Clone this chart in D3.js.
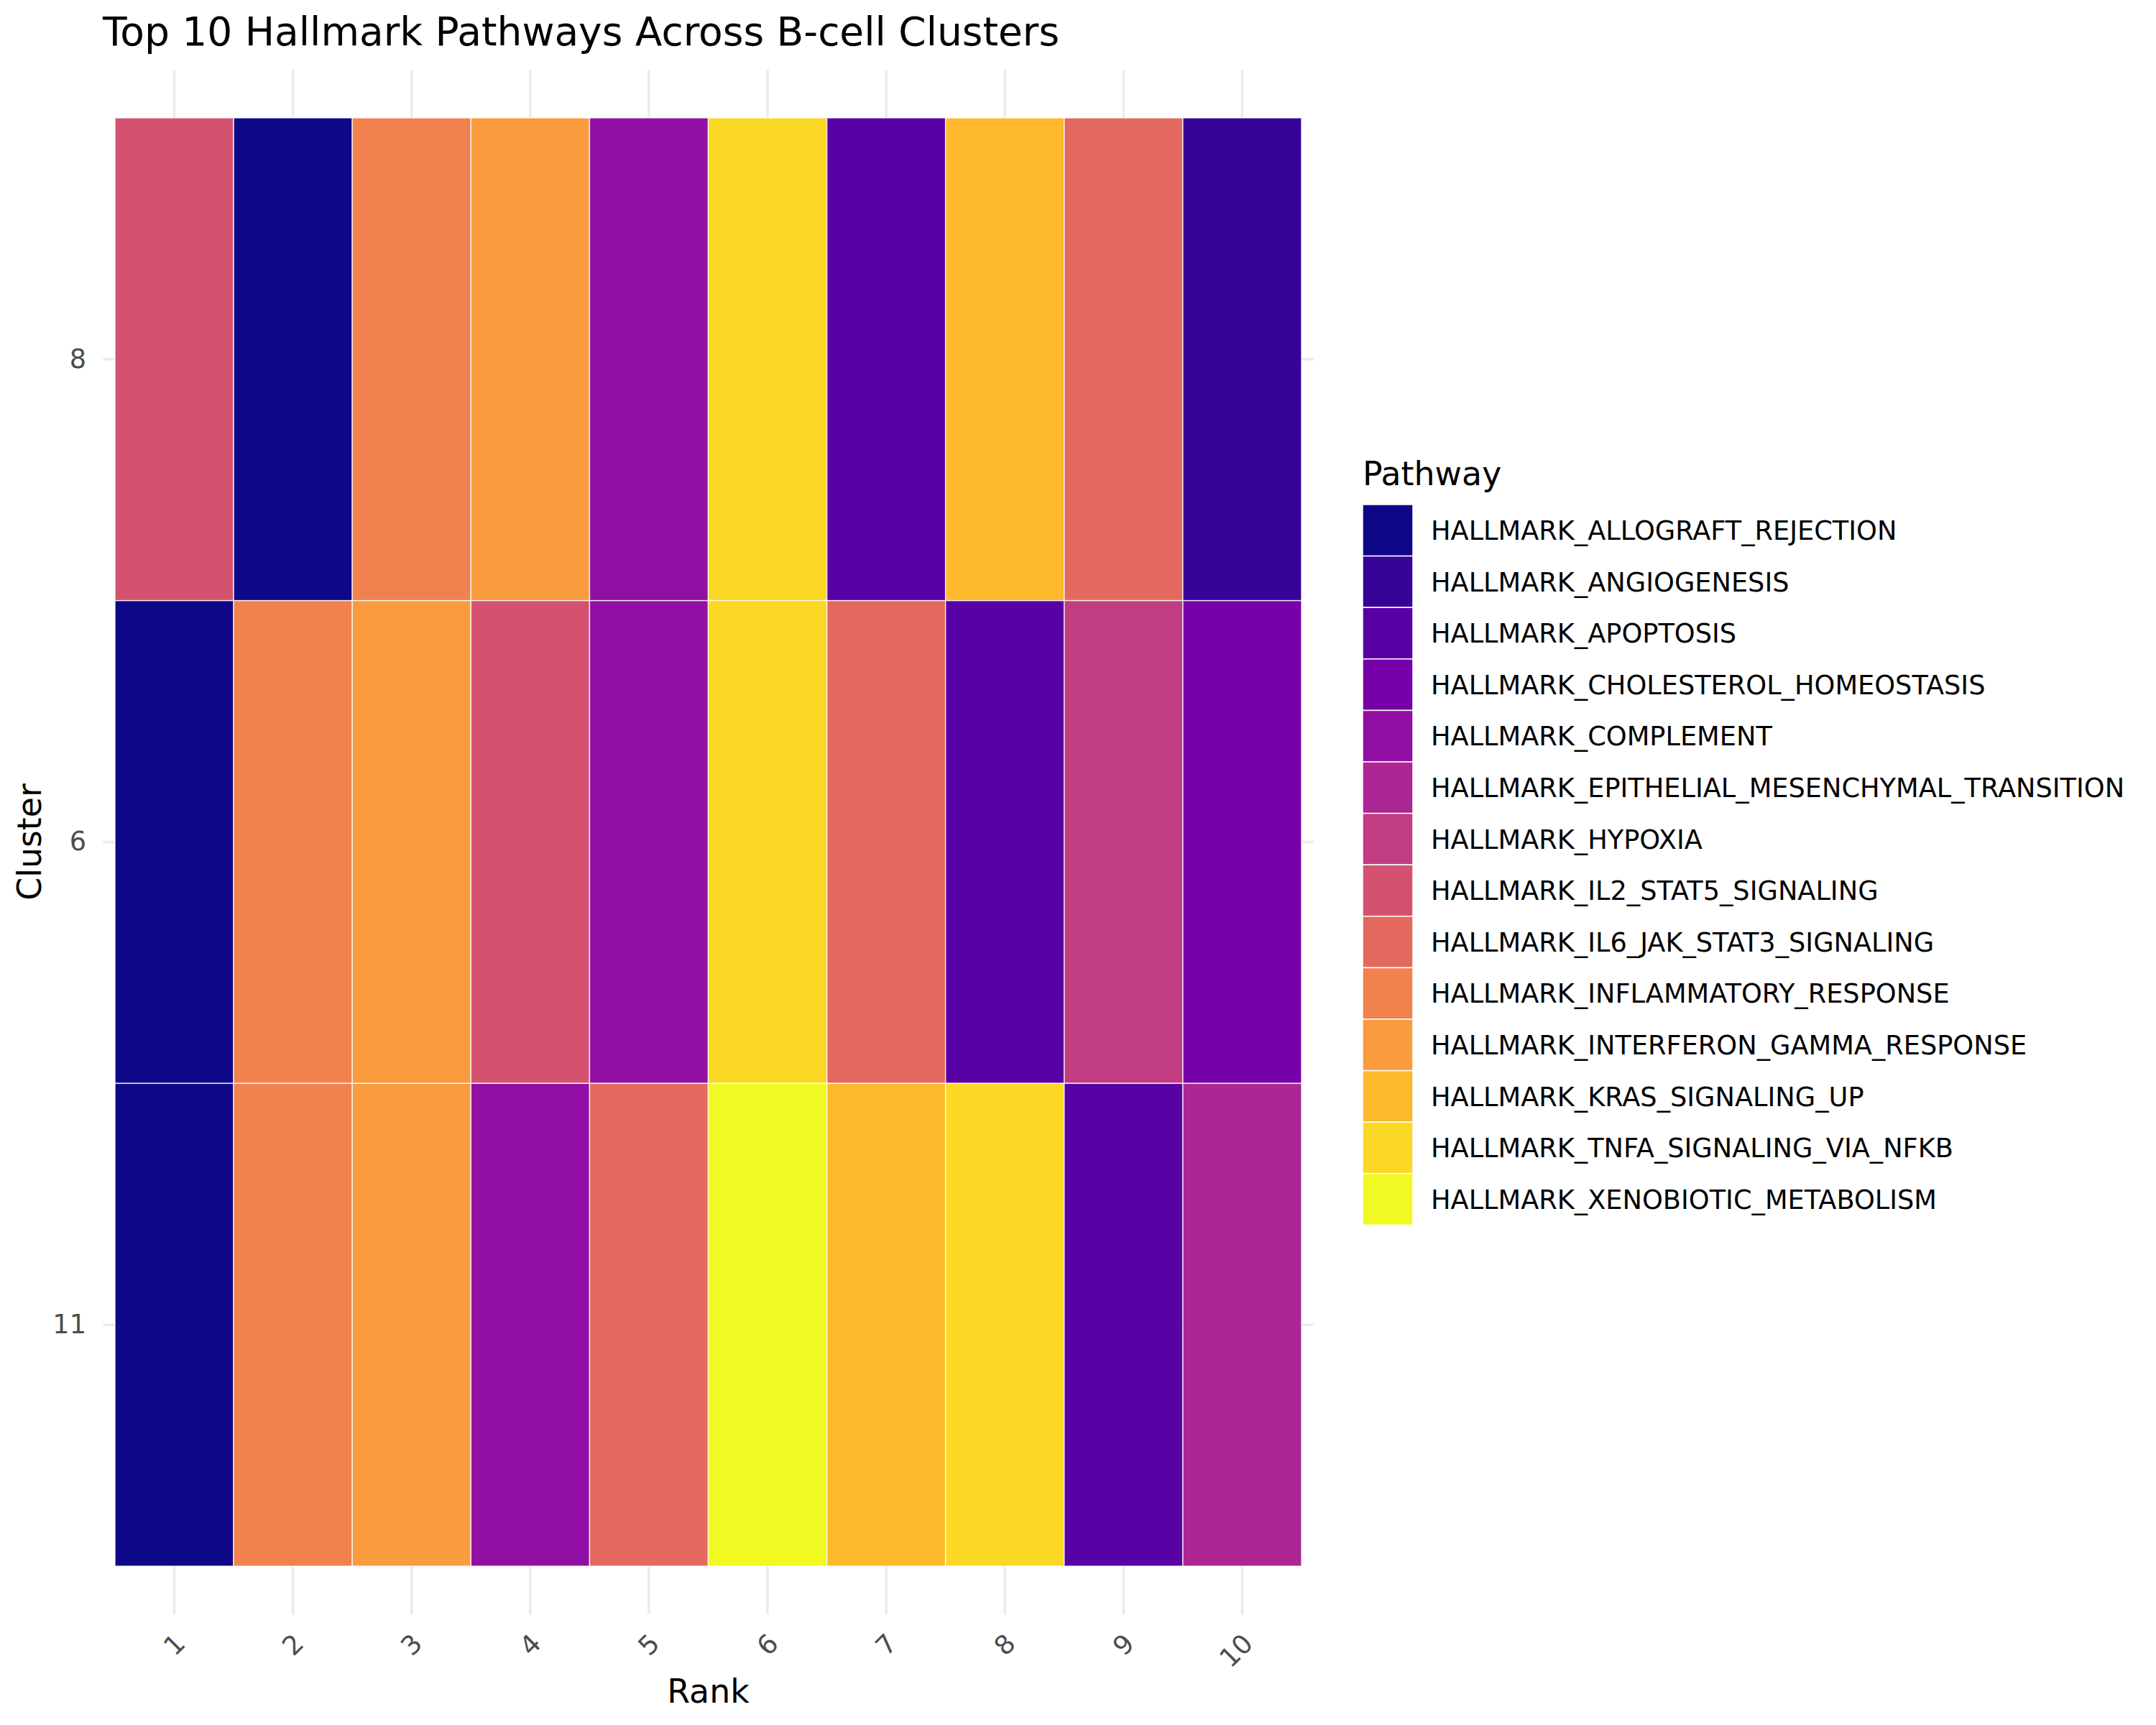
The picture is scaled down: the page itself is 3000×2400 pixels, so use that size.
<!DOCTYPE html>
<html>
<head>
<meta charset="utf-8">
<script src="https://cdn.jsdelivr.net/npm/d3@7"></script>
<style>
  body { margin: 0; background: #fff; }
  text { font-family: "DejaVu Sans", sans-serif; }
</style>
</head>
<body>
<script>
// data
var ranks = ["1", "2", "3", "4", "5", "6", "7", "8", "9", "10"];
var clusters = ["8", "6", "11"];   // top to bottom
var pathways = [
  "HALLMARK_ALLOGRAFT_REJECTION",
  "HALLMARK_ANGIOGENESIS",
  "HALLMARK_APOPTOSIS",
  "HALLMARK_CHOLESTEROL_HOMEOSTASIS",
  "HALLMARK_COMPLEMENT",
  "HALLMARK_EPITHELIAL_MESENCHYMAL_TRANSITION",
  "HALLMARK_HYPOXIA",
  "HALLMARK_IL2_STAT5_SIGNALING",
  "HALLMARK_IL6_JAK_STAT3_SIGNALING",
  "HALLMARK_INFLAMMATORY_RESPONSE",
  "HALLMARK_INTERFERON_GAMMA_RESPONSE",
  "HALLMARK_KRAS_SIGNALING_UP",
  "HALLMARK_TNFA_SIGNALING_VIA_NFKB",
  "HALLMARK_XENOBIOTIC_METABOLISM"
];
var cluster8 = ["HALLMARK_IL2_STAT5_SIGNALING", "HALLMARK_ALLOGRAFT_REJECTION", "HALLMARK_INFLAMMATORY_RESPONSE",
  "HALLMARK_INTERFERON_GAMMA_RESPONSE", "HALLMARK_COMPLEMENT", "HALLMARK_TNFA_SIGNALING_VIA_NFKB",
  "HALLMARK_APOPTOSIS", "HALLMARK_KRAS_SIGNALING_UP", "HALLMARK_IL6_JAK_STAT3_SIGNALING", "HALLMARK_ANGIOGENESIS"];
var cluster6 = ["HALLMARK_ALLOGRAFT_REJECTION", "HALLMARK_INFLAMMATORY_RESPONSE", "HALLMARK_INTERFERON_GAMMA_RESPONSE",
  "HALLMARK_IL2_STAT5_SIGNALING", "HALLMARK_COMPLEMENT", "HALLMARK_TNFA_SIGNALING_VIA_NFKB",
  "HALLMARK_IL6_JAK_STAT3_SIGNALING", "HALLMARK_APOPTOSIS", "HALLMARK_HYPOXIA", "HALLMARK_CHOLESTEROL_HOMEOSTASIS"];
var cluster11 = ["HALLMARK_ALLOGRAFT_REJECTION", "HALLMARK_INFLAMMATORY_RESPONSE", "HALLMARK_INTERFERON_GAMMA_RESPONSE",
  "HALLMARK_COMPLEMENT", "HALLMARK_IL6_JAK_STAT3_SIGNALING", "HALLMARK_XENOBIOTIC_METABOLISM",
  "HALLMARK_KRAS_SIGNALING_UP", "HALLMARK_TNFA_SIGNALING_VIA_NFKB", "HALLMARK_APOPTOSIS",
  "HALLMARK_EPITHELIAL_MESENCHYMAL_TRANSITION"];

var rows = {"8": cluster8, "6": cluster6, "11": cluster11};
var cells = [];
clusters.forEach(function(c) {
  rows[c].forEach(function(p, i) {
    cells.push({cluster: c, rank: ranks[i], pathway: p});
  });
});

var width = 3000, height = 2400;

var x = d3.scaleBand().domain(ranks).range([160, 1811]).padding(0);
var y = d3.scaleBand().domain(clusters).range([164, 2179]).padding(0);
var color = d3.scaleOrdinal()
  .domain(pathways)
  .range(pathways.map(function(d, i) { return d3.interpolatePlasma(i / (pathways.length - 1)); }));

// panel extends 0.1 of a tile beyond the tiles (ggplot discrete expansion)
var panelL = x.range()[0] - 0.1 * x.bandwidth(), panelR = x.range()[1] + 0.1 * x.bandwidth();
var panelT = y.range()[0] - 0.1 * y.bandwidth(), panelB = y.range()[1] + 0.1 * y.bandwidth();

var svg = d3.select("body").append("svg")
  .attr("width", width)
  .attr("height", height);

svg.append("rect").attr("width", width).attr("height", height).attr("fill", "#fff");

// grid
svg.append("g")
  .selectAll("line")
  .data(ranks)
  .join("line")
  .attr("x1", d => x(d) + x.bandwidth() / 2)
  .attr("x2", d => x(d) + x.bandwidth() / 2)
  .attr("y1", panelT)
  .attr("y2", panelB)
  .attr("stroke", "#ebebeb")
  .attr("stroke-width", 3.5);

svg.append("g")
  .selectAll("line")
  .data(clusters)
  .join("line")
  .attr("y1", d => y(d) + y.bandwidth() / 2)
  .attr("y2", d => y(d) + y.bandwidth() / 2)
  .attr("x1", panelL)
  .attr("x2", panelR)
  .attr("stroke", "#ebebeb")
  .attr("stroke-width", 3.5);

// tiles
svg.append("g")
  .selectAll("rect")
  .data(cells)
  .join("rect")
  .attr("x", d => x(d.rank))
  .attr("y", d => y(d.cluster))
  .attr("width", x.bandwidth())
  .attr("height", y.bandwidth())
  .attr("fill", d => color(d.pathway))
  .attr("stroke", "#fff")
  .attr("stroke-opacity", 0.8)
  .attr("stroke-width", 1.5);

// axes
var xAxis = svg.append("g")
  .attr("transform", "translate(0," + panelB + ")")
  .call(d3.axisBottom(x).tickSize(0));
xAxis.select(".domain").remove();
xAxis.selectAll("text")
  .attr("fill", "#4d4d4d")
  .attr("font-size", "36.7px")
  .attr("y", 0)
  .attr("dy", "0.35em")
  .attr("text-anchor", "end")
  .attr("transform", "translate(8," + (2280 - panelB) + ") rotate(-45)");

var yAxis = svg.append("g")
  .attr("transform", "translate(120,0)")
  .call(d3.axisLeft(y).tickSize(0).tickPadding(0));
yAxis.select(".domain").remove();
yAxis.selectAll("text")
  .attr("fill", "#4d4d4d")
  .attr("font-size", "36.7px");

// titles
svg.append("text")
  .attr("x", 143)
  .attr("y", 63)
  .attr("font-size", "55px")
  .attr("fill", "#000")
  .text("Top 10 Hallmark Pathways Across B-cell Clusters");

svg.append("text")
  .attr("x", (panelL + panelR) / 2)
  .attr("y", 2369)
  .attr("text-anchor", "middle")
  .attr("font-size", "45.8px")
  .attr("fill", "#000")
  .text("Rank");

svg.append("text")
  .attr("transform", "translate(57," + ((panelT + panelB) / 2) + ") rotate(-90)")
  .attr("text-anchor", "middle")
  .attr("font-size", "45.8px")
  .attr("fill", "#000")
  .text("Cluster");

// legend
var legend = svg.append("g").attr("transform", "translate(1896,0)");
legend.append("text")
  .attr("x", 0)
  .attr("y", 675)
  .attr("font-size", "45.8px")
  .attr("fill", "#000")
  .text("Pathway");

var keyH = 71.6, keyW = 70, keyTop = 702;
var items = legend.selectAll("g.key")
  .data(pathways)
  .join("g")
  .attr("class", "key")
  .attr("transform", (d, i) => "translate(0," + (keyTop + i * keyH) + ")");

items.append("rect")
  .attr("width", keyW)
  .attr("height", keyH)
  .attr("fill", d => color(d))
  .attr("stroke", "#fff")
  .attr("stroke-width", 1.5);

items.append("text")
  .attr("x", 95)
  .attr("y", keyH / 2)
  .attr("dy", "0.36em")
  .attr("font-size", "36.7px")
  .attr("fill", "#000")
  .text(d => d);
</script>
</body>
</html>
